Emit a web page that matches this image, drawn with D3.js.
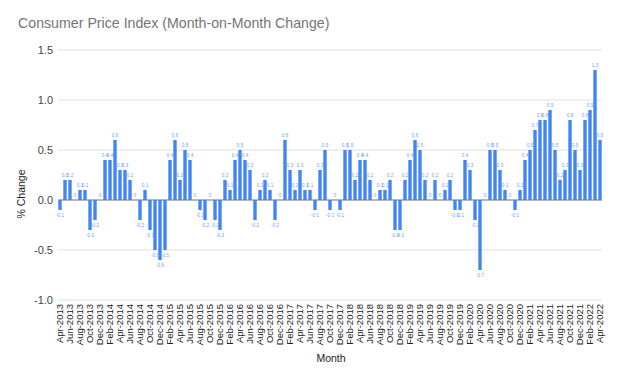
<!DOCTYPE html>
<html>
<head>
<meta charset="utf-8">
<script src="https://cdn.jsdelivr.net/npm/d3@7"></script>
<style>
  body { margin: 0; background: #fff; }
  text { font-family: Arial, "Liberation Sans", sans-serif; }
</style>
</head>
<body>
<svg id="chart" width="620" height="381"></svg>
<script>
const startYear = 2013, startMonth = 3; // April 2013
const values = [
  -0.1, 0.2, 0.2, 0, 0.1, 0.1, -0.3, -0.2, 0,
  0.4, 0.4, 0.6, 0.3, 0.3, 0.2, 0, -0.2, 0.1, -0.3, -0.5, -0.6,
  -0.5, 0.4, 0.6, 0.2, 0.5, 0.4, 0, -0.1, -0.2, 0, -0.2, -0.3,
  0.2, 0.1, 0.4, 0.5, 0.4, 0.3, -0.2, 0.1, 0.2, 0.1, -0.2, 0,
  0.6, 0.3, 0.1, 0.3, 0.1, 0.1, -0.1, 0.3, 0.5, -0.1, 0, -0.1,
  0.5, 0.5, 0.2, 0.4, 0.4, 0.2, 0, 0.1, 0.1, 0.2, -0.3, -0.3,
  0.2, 0.4, 0.6, 0.5, 0.2, 0, 0.2, 0, 0.1, 0.2, -0.1, -0.1,
  0.4, 0.3, -0.2, -0.7, 0, 0.5, 0.5, 0.3, 0.1, 0, -0.1, 0.1,
  0.4, 0.5, 0.7, 0.8, 0.8, 0.9, 0.5, 0.2, 0.3, 0.8, 0.5, 0.3,
  0.8, 0.9, 1.3, 0.6
];
const monthNames = ['Jan','Feb','Mar','Apr','May','Jun','Jul','Aug','Sep','Oct','Nov','Dec'];
const months = values.map((_, i) => {
  const m = startMonth + i;
  return monthNames[m % 12] + '-' + (startYear + Math.floor(m / 12));
});
const yTicks = [-1, -0.5, 0, 0.5, 1, 1.5];

const svg = d3.select('#chart');
const x = d3.scaleBand().domain(months).range([57.5, 602.5]).paddingInner(0.32).paddingOuter(0.16);
const y = d3.scaleLinear().domain([-1, 1.5]).range([300, 50]);

// gridlines
svg.append('g').selectAll('line').data(yTicks).join('line')
  .attr('x1', 58).attr('x2', 602)
  .attr('y1', d => y(d)).attr('y2', d => y(d))
  .attr('stroke', d => d === 0 ? '#9e9e9e' : '#e0e0e0')
  .attr('stroke-width', d => d === 0 ? 1.3 : 1);

// y tick labels
svg.append('g').selectAll('text').data(yTicks).join('text')
  .attr('x', 53).attr('y', d => y(d) + 4)
  .attr('text-anchor', 'end')
  .attr('font-size', 11).attr('fill', '#444')
  .text(d => d.toFixed(1));

// bars
svg.append('g').selectAll('rect').data(values).join('rect')
  .attr('x', (d, i) => x(months[i]))
  .attr('width', x.bandwidth())
  .attr('y', d => Math.min(y(d), y(0)))
  .attr('height', d => Math.abs(y(d) - y(0)))
  .attr('fill', '#4285f4');

// data labels
svg.append('g').selectAll('text').data(values).join('text')
  .attr('x', (d, i) => x(months[i]) + x.bandwidth() / 2)
  .attr('y', d => d < 0 ? y(d) + 7 : y(d) - 3)
  .attr('text-anchor', 'middle')
  .attr('font-size', 4.6).attr('fill', '#6d9ef7')
  .text(d => d);

// x labels (every other month)
svg.append('g').selectAll('text').data(months.filter((_, i) => i % 2 === 0)).join('text')
  .attr('transform', d => `translate(${x(d) + x.bandwidth() / 2 + 3.3},304) rotate(-90)`)
  .attr('text-anchor', 'end')
  .attr('font-size', 9.5).attr('fill', '#222')
  .text(d => d);

// titles
svg.append('text').attr('x', 18).attr('y', 28)
  .attr('font-size', 14.2).attr('fill', '#757575')
  .text('Consumer Price Index (Month-on-Month Change)');

svg.append('text').attr('x', 331).attr('y', 362)
  .attr('text-anchor', 'middle').attr('font-size', 10.5).attr('fill', '#222')
  .text('Month');

svg.append('text')
  .attr('transform', 'translate(25,194) rotate(-90)')
  .attr('text-anchor', 'middle').attr('font-size', 10.5).attr('fill', '#222')
  .text('% Change');
</script>
</body>
</html>
